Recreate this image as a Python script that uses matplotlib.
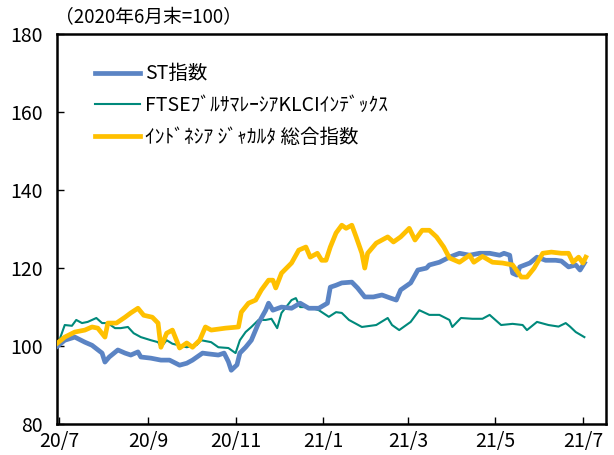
import pandas as pd
import numpy as np
import matplotlib.pyplot as plt

plt.rcParams['font.family'] = ['Noto Sans CJK JP', 'DejaVu Sans']

# --- データ (2020年6月末=100) ---
st_dates = ['2020-06-30', '2020-07-05', '2020-07-12', '2020-07-19', '2020-07-24', '2020-07-31',
            '2020-08-02', '2020-08-05', '2020-08-11', '2020-08-16', '2020-08-20', '2020-08-25',
            '2020-08-27', '2020-09-03', '2020-09-10', '2020-09-16', '2020-09-23', '2020-09-28',
            '2020-10-02', '2020-10-09', '2020-10-13', '2020-10-20', '2020-10-24', '2020-10-27',
            '2020-10-29', '2020-11-02', '2020-11-04', '2020-11-08', '2020-11-12', '2020-11-17',
            '2020-11-22', '2020-11-24', '2020-11-27', '2020-12-03', '2020-12-10', '2020-12-16',
            '2020-12-22', '2020-12-29', '2021-01-04', '2021-01-06', '2021-01-10', '2021-01-14',
            '2021-01-21', '2021-01-25', '2021-01-30', '2021-02-05', '2021-02-11', '2021-02-17',
            '2021-02-21', '2021-02-24', '2021-03-03', '2021-03-08', '2021-03-14', '2021-03-16',
            '2021-03-23', '2021-03-30', '2021-04-06', '2021-04-13', '2021-04-20', '2021-04-27',
            '2021-05-04', '2021-05-07', '2021-05-11', '2021-05-13', '2021-05-16', '2021-05-18',
            '2021-05-25', '2021-05-30', '2021-06-05', '2021-06-12', '2021-06-16', '2021-06-21',
            '2021-06-26', '2021-06-29', '2021-07-02']
st_values = [100.0, 101.5, 102.3, 101.0, 100.2, 98.2,
             95.9, 97.2, 99.0, 98.2, 97.7, 98.5,
             97.2, 96.9, 96.4, 96.4, 95.1, 95.6,
             96.4, 98.2, 98.0, 97.7, 98.2, 96.0,
             93.8, 95.2, 98.2, 99.7, 101.5, 105.9,
             109.2, 111.0, 109.2, 110.0, 109.7, 111.0,
             109.7, 109.7, 111.0, 115.1, 115.6, 116.2,
             116.4, 114.9, 112.6, 112.6, 113.1, 112.3,
             111.8, 114.4, 116.2, 119.5, 120.0, 120.8,
             121.5, 122.8, 123.8, 123.3, 123.8, 123.8,
             123.3, 123.8, 123.3, 118.7, 118.2, 120.3,
             121.3, 122.8, 122.0, 122.0, 121.8, 120.3,
             120.8, 119.5, 121.3]

klci_dates = ['2020-06-30', '2020-07-02', '2020-07-05', '2020-07-10', '2020-07-13', '2020-07-17',
              '2020-07-21', '2020-07-27', '2020-07-31', '2020-08-04', '2020-08-09', '2020-08-13',
              '2020-08-18', '2020-08-22', '2020-08-27', '2020-09-03', '2020-09-08', '2020-09-10',
              '2020-09-14', '2020-09-18', '2020-09-28', '2020-10-05', '2020-10-08', '2020-10-15',
              '2020-10-20', '2020-10-27', '2020-11-01', '2020-11-04', '2020-11-08', '2020-11-12',
              '2020-11-17', '2020-11-22', '2020-11-26', '2020-11-30', '2020-12-03', '2020-12-10',
              '2020-12-13', '2020-12-16', '2020-12-22', '2020-12-29', '2021-01-05', '2021-01-10',
              '2021-01-14', '2021-01-19', '2021-01-28', '2021-02-07', '2021-02-15', '2021-02-18',
              '2021-02-23', '2021-03-03', '2021-03-09', '2021-03-16', '2021-03-23', '2021-03-30',
              '2021-04-01', '2021-04-07', '2021-04-15', '2021-04-22', '2021-04-27', '2021-05-05',
              '2021-05-13', '2021-05-20', '2021-05-23', '2021-05-30', '2021-06-07', '2021-06-14',
              '2021-06-19', '2021-06-22', '2021-06-26', '2021-07-02']
klci_values = [100.0, 102.3, 105.4, 105.2, 106.7, 105.9,
               106.2, 107.2, 105.9, 105.9, 104.6, 104.6,
               104.9, 103.3, 102.3, 101.5, 101.0, 99.7,
               101.5, 100.6, 99.7, 100.3, 101.5, 101.0,
               99.7, 99.5, 98.2, 101.5, 103.6, 104.9,
               106.7, 106.7, 107.0, 104.6, 108.5, 111.8,
               112.3, 110.0, 110.0, 109.2, 107.5, 108.7,
               108.5, 106.7, 104.9, 105.4, 107.2, 105.4,
               104.1, 106.2, 109.2, 108.0, 108.0, 106.7,
               104.9, 107.2, 107.0, 107.0, 108.0, 105.4,
               105.7, 105.4, 104.1, 106.2, 105.4, 105.0,
               105.9, 105.0, 103.6, 102.3]

jkse_dates = ['2020-06-30', '2020-07-05', '2020-07-12', '2020-07-19', '2020-07-24', '2020-07-28',
              '2020-08-02', '2020-08-04', '2020-08-10', '2020-08-16', '2020-08-20', '2020-08-25',
              '2020-08-29', '2020-09-04', '2020-09-08', '2020-09-10', '2020-09-14', '2020-09-18',
              '2020-09-23', '2020-09-28', '2020-10-02', '2020-10-07', '2020-10-11', '2020-10-15',
              '2020-10-25', '2020-11-03', '2020-11-05', '2020-11-10', '2020-11-15', '2020-11-19',
              '2020-11-24', '2020-11-27', '2020-11-29', '2020-12-03', '2020-12-10', '2020-12-15',
              '2020-12-20', '2020-12-23', '2020-12-28', '2020-12-31', '2021-01-03', '2021-01-06',
              '2021-01-10', '2021-01-14', '2021-01-17', '2021-01-21', '2021-01-24', '2021-01-28',
              '2021-01-30', '2021-02-01', '2021-02-07', '2021-02-15', '2021-02-19', '2021-02-24',
              '2021-03-02', '2021-03-06', '2021-03-11', '2021-03-16', '2021-03-21', '2021-03-26',
              '2021-03-30', '2021-04-06', '2021-04-13', '2021-04-16', '2021-04-22', '2021-04-29',
              '2021-05-06', '2021-05-13', '2021-05-19', '2021-05-23', '2021-05-28', '2021-06-03',
              '2021-06-09', '2021-06-16', '2021-06-21', '2021-06-24', '2021-06-28', '2021-07-01',
              '2021-07-03']
jkse_values = [100.8, 102.3, 103.6, 104.1, 104.9, 104.6,
               102.3, 105.9, 105.9, 107.4, 108.5, 109.7,
               107.9, 107.4, 105.9, 99.7, 103.3, 104.1,
               99.5, 100.8, 99.7, 101.5, 104.9, 104.1,
               104.6, 104.9, 108.7, 111.0, 111.8, 114.4,
               116.9, 116.9, 114.9, 118.7, 121.3, 124.6,
               125.4, 122.8, 123.8, 122.0, 122.0, 125.4,
               129.0, 131.0, 130.2, 131.0, 128.0, 123.8,
               120.0, 123.8, 126.4, 128.0, 126.7, 128.0,
               130.2, 127.2, 129.7, 129.7, 128.0, 125.4,
               122.6, 121.5, 123.3, 121.5, 123.0, 121.5,
               121.3, 120.8, 117.7, 117.7, 120.0, 123.8,
               124.1, 123.8, 123.8, 121.5, 122.8, 121.3,
               122.8]

labels = ['ST指数', 'FTSEﾌﾞﾙｻﾏﾚｰｼｱKLCIｲﾝﾃﾞｯｸｽ', 'ｲﾝﾄﾞﾈｼｱ ｼﾞｬｶﾙﾀ 総合指数']
tick_dates = ['2020-07-01', '2020-09-01', '2020-11-01', '2021-01-01', '2021-03-01', '2021-05-01', '2021-07-01']
tick_labels = ['20/7', '20/9', '20/11', '21/1', '21/3', '21/5', '21/7']

fig = plt.figure(figsize=(6.14, 4.55), dpi=100)
ax = fig.add_axes([0.0928, 0.068, 0.894, 0.857])

ax.plot(pd.to_datetime(st_dates), st_values, color='#5B84C4', linewidth=3.4,
        solid_joinstyle='round', label=labels[0], zorder=3)
ax.plot(pd.to_datetime(klci_dates), klci_values, color='#00897B', linewidth=1.5,
        label=labels[1], zorder=2)
ax.plot(pd.to_datetime(jkse_dates), jkse_values, color='#FFC000', linewidth=3.4,
        solid_joinstyle='round', label=labels[2], zorder=4)

ax.set_ylim(80, 180)
ax.set_yticks(np.arange(80, 181, 20))
ax.set_xlim(pd.Timestamp('2020-06-29 14:00'), pd.Timestamp('2021-07-17'))
ax.set_xticks(pd.to_datetime(tick_dates))
ax.set_xticklabels(tick_labels)

ax.tick_params(axis='both', direction='in', length=5, width=1, labelsize=14, colors='black')
ax.tick_params(axis='x', pad=5)
ax.tick_params(axis='y', pad=10)
for side in ['left', 'right', 'top', 'bottom']:
    ax.spines[side].set_linewidth(1.8)
    ax.spines[side].set_color('black')

ax.legend(loc='upper left', bbox_to_anchor=(0.055, 0.945), frameon=False,
          fontsize=14, handlelength=2.3, handletextpad=0.28, labelspacing=0.55,
          borderaxespad=0)

fig.text(55 / 614, 1 - 18 / 455, '（2020年6月末=100）', fontsize=13.5, va='center', ha='left')

fig.savefig('out.png', dpi=100)
